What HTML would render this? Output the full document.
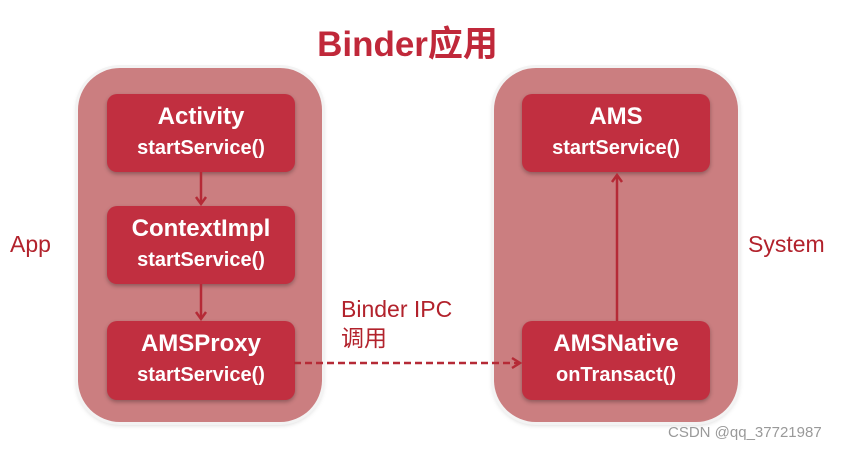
<!DOCTYPE html>
<html><head><meta charset="utf-8"><style>
body{margin:0;width:852px;height:450px;background:#fff;position:relative;overflow:hidden;font-family:"Liberation Sans","Noto Sans CJK SC",sans-serif}
.c{position:absolute;background:#cb7e80;border-radius:42px;box-shadow:0 0 0 3px #f3f3f3,0 2px 6px rgba(0,0,0,.25)}
.b{position:absolute;width:188px;background:#c12f40;border-radius:10px;color:#fff;text-align:center;font-weight:bold;box-shadow:0 2px 4px rgba(0,0,0,.3)}
.b .t{font-size:24px;margin-top:8px;line-height:30px}
.b .s{font-size:20px;line-height:28px;margin-top:2px}
.l{position:absolute;color:#b2222c;font-size:23px}
</style></head><body>
<div style="position:absolute;left:0;width:815px;top:16px;text-align:center;font-size:35px;font-weight:bold;color:#c0283a">Binder应用</div>
<div class="c" style="left:78px;top:68px;width:244px;height:354px"></div>
<div class="c" style="left:494px;top:68px;width:244px;height:354px"></div>
<div class="b" style="left:107px;top:94px;height:78px"><div class="t">Activity</div><div class="s">startService()</div></div>
<div class="b" style="left:107px;top:206px;height:78px"><div class="t">ContextImpl</div><div class="s">startService()</div></div>
<div class="b" style="left:107px;top:321px;height:79px"><div class="t">AMSProxy</div><div class="s">startService()</div></div>
<div class="b" style="left:522px;top:94px;height:78px"><div class="t">AMS</div><div class="s">startService()</div></div>
<div class="b" style="left:522px;top:321px;height:79px"><div class="t">AMSNative</div><div class="s">onTransact()</div></div>
<div class="l" style="left:10px;top:231px">App</div>
<div class="l" style="left:748px;top:231px">System</div>
<div class="l" style="left:341px;top:295px;line-height:29px">Binder IPC<br>调用</div>
<svg width="852" height="450" style="position:absolute;left:0;top:0">
<g stroke="#b52a36" stroke-width="2.5" fill="none">
<line x1="201" y1="172" x2="201" y2="204"/><polyline points="196,197 201,204 206,197"/>
<line x1="201" y1="284" x2="201" y2="319"/><polyline points="196,312 201,319 206,312"/>
<line x1="617" y1="321" x2="617" y2="175"/><polyline points="612,182 617,175 622,182"/>
<line x1="294" y1="363" x2="519" y2="363" stroke-dasharray="7,4"/><polyline points="512,358 520,363 512,368"/>
</g></svg>
<div style="position:absolute;left:668px;top:424px;font-size:15px;color:#999">CSDN @qq_37721987</div>
</body></html>
